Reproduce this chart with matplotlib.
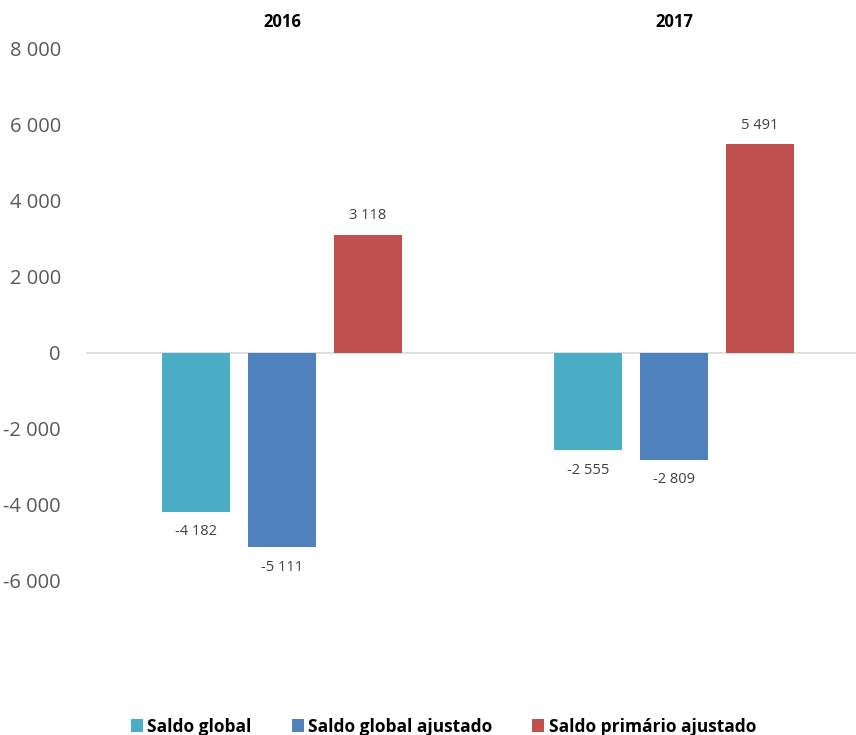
import matplotlib.pyplot as plt
import numpy as np

# dados
anos = ['2016', '2017']
series = ['Saldo global', 'Saldo global ajustado', 'Saldo primário ajustado']
saldo_global = [-4182, -2555]
saldo_global_ajustado = [-5111, -2809]
saldo_primario_ajustado = [3118, 5491]
cores = ['#4BACC6', '#4F81BD', '#C0504D']

plt.rcParams['font.family'] = ['Open Sans', 'DejaVu Sans']

fig = plt.figure(figsize=(8.56, 7.35), dpi=100)
ax = fig.add_axes([86 / 856, 1 - 581 / 735, 784 / 856, 532 / 735])

x = np.arange(len(anos))
larg = 0.173
desl = 0.219
valores = [saldo_global, saldo_global_ajustado, saldo_primario_ajustado]

for k in range(3):
    pos = x + (k - 1) * desl
    ax.bar(pos, valores[k], width=larg, color=cores[k], label=series[k], zorder=2)
    for p, v in zip(pos, valores[k]):
        txt = '{:,}'.format(v).replace(',', ' ')
        if v >= 0:
            ax.annotate(txt, (p, v), xytext=(0, 8), textcoords='offset points',
                        ha='center', va='bottom', fontsize=10.5, color='#404040')
        else:
            ax.annotate(txt, (p, v), xytext=(0, -9), textcoords='offset points',
                        ha='center', va='top', fontsize=10.5, color='#404040')

ax.axhline(0, color='#D9D9D9', lw=1.2, zorder=1)
ax.set_xlim(-0.5, 1.5)
ax.set_ylim(-6000, 8000)
ax.set_yticks(np.arange(-6000, 8001, 2000))
ax.set_yticklabels(['{:,}'.format(v).replace(',', ' ') for v in range(-6000, 8001, 2000)])
ax.tick_params(axis='y', length=0, labelsize=14.5, labelcolor='#595959', pad=18)
ax.set_xticks([])
for s in ax.spines.values():
    s.set_visible(False)

# anos no topo
for i, a in enumerate(anos):
    ax.text(x[i], 1.05, a, transform=ax.get_xaxis_transform(), ha='center',
            va='center', fontsize=12, fontweight='bold')

fig.legend(loc='lower center', bbox_to_anchor=(0.518, -0.022), ncol=3, frameon=False,
           handlelength=0.7, handleheight=0.7, handletextpad=0.25, columnspacing=2.3,
           prop={'size': 12.5, 'weight': 'bold'})

fig.savefig('out.png', dpi=100)
